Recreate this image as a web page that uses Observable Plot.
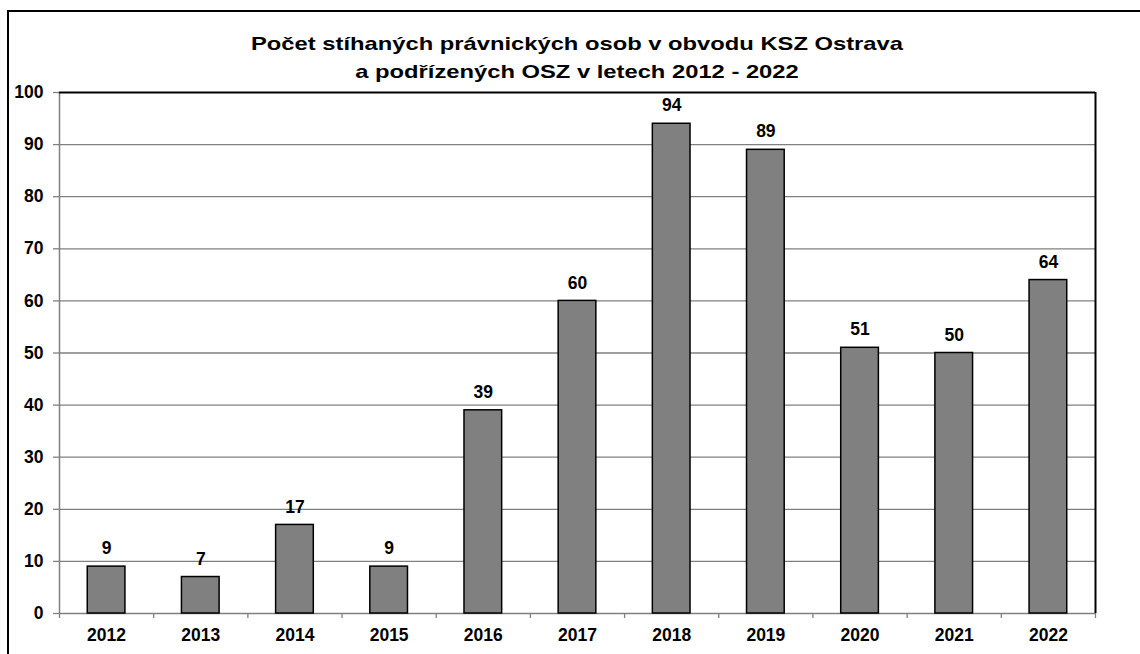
<!DOCTYPE html>
<html>
<head>
<meta charset="utf-8">
<script src="https://cdn.jsdelivr.net/npm/d3@7"></script>
<script src="https://cdn.jsdelivr.net/npm/@observablehq/plot@0.6"></script>
<style>
  html, body { margin: 0; padding: 0; background: #fff; overflow: hidden; }
  #wrap { position: relative; width: 1140px; height: 654px; overflow: hidden; font-family: "Liberation Sans", Arial, sans-serif; }
  #frame { position: absolute; left: 7px; top: 10px; width: 1200px; height: 700px; border: 2px solid #000; box-sizing: border-box; }
  #title { position: absolute; left: 0; top: 30px; width: 1154px; text-align: center; font-weight: bold; font-size: 19px; line-height: 28px; color: #000; transform: scaleX(1.25); transform-origin: 577px 0; }
  #chart { position: absolute; left: 0; top: 0; }
</style>
</head>
<body>
<div id="wrap">
  <div id="frame"></div>
  <div id="chart"></div>
  <div id="title">Počet stíhaných právnických osob v obvodu KSZ Ostrava<br>a podřízených OSZ v letech 2012 - 2022</div>
</div>
<script>
const years = [2012, 2013, 2014, 2015, 2016, 2017, 2018, 2019, 2020, 2021, 2022];
const counts = [9, 7, 17, 9, 39, 60, 94, 89, 51, 50, 64];
const yTicks = [0, 10, 20, 30, 40, 50, 60, 70, 80, 90, 100];

const data = years.map((y, i) => ({year: y, count: counts[i]}));
const boundaries = [years[0] - 0.5, ...years.map(y => y + 0.5)];
const half = 0.2;

const chart = Plot.plot({
  width: 1140,
  height: 654,
  marginLeft: 59,
  marginRight: 45,
  marginTop: 92,
  marginBottom: 41,
  style: {fontFamily: "'Liberation Sans', Arial, sans-serif", fontSize: "17.5px", fontWeight: "bold", color: "#000", background: "transparent"},
  x: {type: "linear", domain: [boundaries[0], boundaries[boundaries.length - 1]]},
  y: {domain: [0, 100]},
  marks: [
    Plot.gridY(yTicks.slice(1, -1), {stroke: "#808080", strokeOpacity: 1, strokeWidth: 1.3}),
    Plot.axisY({ticks: yTicks, tickSize: 6, tickPadding: 10, stroke: "#808080", strokeWidth: 1.3, label: null, fill: "#000", fontWeight: "bold"}),
    Plot.axisX({ticks: boundaries, tickSize: 5, tickFormat: () => "", stroke: "#808080", strokeWidth: 1.3, label: null}),
    Plot.axisX({ticks: years, tickSize: 0, tickPadding: 15, tickFormat: d => String(d), label: null, fill: "#000", fontWeight: "bold"}),
    Plot.ruleX([boundaries[0]], {y1: 0, y2: 100, stroke: "#808080", strokeWidth: 1.5}),
    Plot.ruleY([0], {stroke: "#808080", strokeWidth: 1.5}),
    Plot.rectY(data, {x1: d => d.year - half, x2: d => d.year + half, y1: 0, y2: "count", fill: "#808080", stroke: "#000", strokeWidth: 1.5}),
    Plot.text(data, {x: "year", y: "count", text: d => String(d.count), dy: -18, fill: "#000", fontWeight: "bold", fontSize: 17.5}),
    Plot.ruleY([100], {stroke: "#000", strokeWidth: 2}),
    Plot.ruleX([boundaries[boundaries.length - 1]], {y1: 0, y2: 100, stroke: "#000", strokeWidth: 2})
  ]
});
document.getElementById("chart").appendChild(chart);
</script>
</body>
</html>
